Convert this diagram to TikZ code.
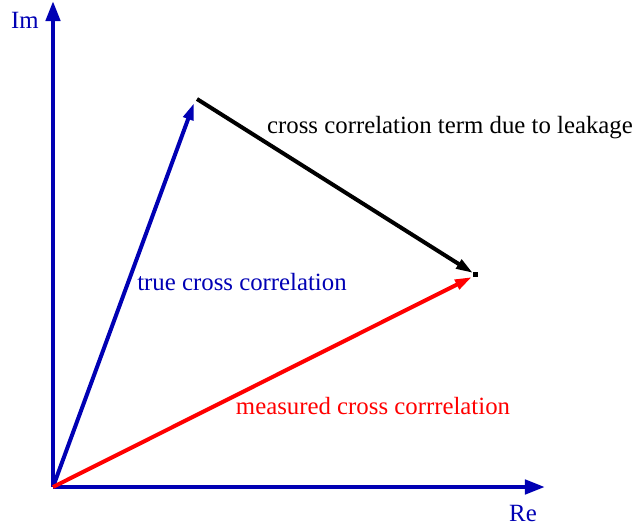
\documentclass[tikz,border=0pt]{standalone}
\usepackage{fontspec}
\setmainfont{Liberation Serif}
\usetikzlibrary{arrows.meta}

\definecolor{axisblue}{RGB}{0,0,180}

\begin{document}
\begin{tikzpicture}[
  x=0.5pt, y=-0.5pt,
  every node/.style={font=\fontsize{12.4}{14}\selectfont, inner sep=1pt},
  axis/.style={draw=axisblue, line width=2.2pt, -{Triangle[length=10pt,width=7pt]}},
  vec/.style={line width=2pt, -{Triangle[length=8.5pt,width=5pt]}},
]
\useasboundingbox (0,0) rectangle (634,531);

% ---- points ----------------------------------------------------------
\coordinate (orig)  at (53,487);
\coordinate (ytip)  at (53,1);
\coordinate (xtip)  at (545,487);
\coordinate (truetip) at (194,103);
\coordinate (leakstart) at (197,99);
\coordinate (leaktip) at (473,273);
\coordinate (meastip) at (472,277);

% ---- axes ------------------------------------------------------------
\draw[axis] (orig) -- (ytip);
\draw[axis] (orig) -- (xtip);
\node[text=axisblue] (imlab) at (25,20) {Im};
\node[text=axisblue] (relab) at (523,513) {Re};

% ---- vectors ---------------------------------------------------------
\draw[vec, axisblue] (orig) -- (truetip);
\draw[vec, red] (orig) -- (meastip);
\draw[vec, black] (leakstart) -- (leaktip);
\fill[black] (473.5,271.5) rectangle (478.5,276.5);

% ---- labels ----------------------------------------------------------
\node[text=axisblue] (truelab) at (242,282) {true cross correlation};
\node[text=red] (measlab) at (373,406) {measured cross corrrelation};
\node (leaklab) at (450,128) {cross correlation term due to leakage};

\end{tikzpicture}
\end{document}
